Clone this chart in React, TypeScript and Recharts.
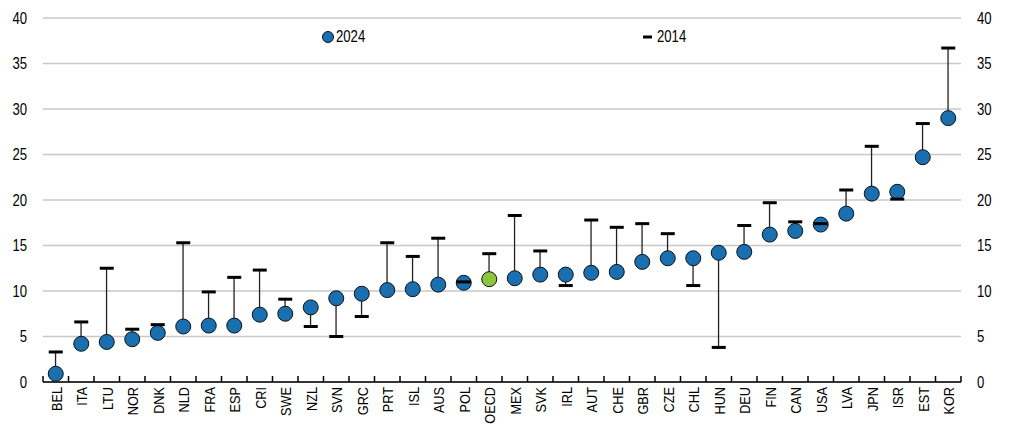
import React from "react";
import {
  ComposedChart,
  Bar,
  Scatter,
  XAxis,
  YAxis,
  CartesianGrid,
  Cell,
  Legend,
} from "recharts";

const categories = [
  "BEL", "ITA", "LTU", "NOR", "DNK", "NLD", "FRA", "ESP", "CRI", "SWE",
  "NZL", "SVN", "GRC", "PRT", "ISL", "AUS", "POL", "OECD", "MEX", "SVK",
  "IRL", "AUT", "CHE", "GBR", "CZE", "CHL", "HUN", "DEU", "FIN", "CAN",
  "USA", "LVA", "JPN", "ISR", "EST", "KOR",
];

const values2024 = [
  0.9, 4.2, 4.4, 4.7, 5.4, 6.1, 6.2, 6.2, 7.4, 7.5,
  8.2, 9.2, 9.7, 10.1, 10.2, 10.7, 10.9, 11.3, 11.4, 11.8,
  11.8, 12.0, 12.1, 13.2, 13.6, 13.6, 14.2, 14.3, 16.2, 16.6,
  17.3, 18.5, 20.7, 20.9, 24.7, 29.0,
];

const values2014 = [
  3.3, 6.6, 12.5, 5.8, 6.3, 15.3, 9.9, 11.5, 12.3, 9.1,
  6.1, 5.0, 7.2, 15.3, 13.8, 15.8, 11.0, 14.1, 18.3, 14.4,
  10.6, 17.8, 17.0, 17.4, 16.3, 10.6, 3.8, 17.2, 19.7, 17.6,
  17.4, 21.1, 25.9, 20.1, 28.4, 36.7,
];

const yTicks = [0, 5, 10, 15, 20, 25, 30, 35, 40];

const data = categories.map((name, i) => ({
  name,
  v2024: values2024[i],
  v2014: values2014[i],
  range: [Math.min(values2024[i], values2014[i]), Math.max(values2024[i], values2014[i])],
}));

const FONT = "'Liberation Sans', Arial, sans-serif";
const SX = 0.82;
const BLUE = "#1a6fb0";
const GREEN = "#8cc63f";

const RangeLine = (props: any) => {
  const { x, y, width, height } = props;
  if (x == null || y == null) return null;
  const cx = x + width / 2;
  const top = Math.min(y, y + height);
  const bottom = Math.max(y, y + height);
  return <line x1={cx} x2={cx} y1={top} y2={bottom} stroke="#222" strokeWidth={1.3} />;
};

const Dot = (props: any) => {
  const { cx, cy, fill } = props;
  if (cx == null || cy == null) return null;
  return <circle cx={cx} cy={cy} r={7.5} fill={fill} stroke="#111" strokeWidth={1} />;
};

const Dash = (props: any) => {
  const { cx, cy } = props;
  if (cx == null || cy == null) return null;
  return <line x1={cx - 7} x2={cx + 7} y1={cy} y2={cy} stroke="#000" strokeWidth={3} />;
};

const N = categories.length;

const XTick = (props: any) => {
  const { x, y, payload, index } = props;
  const half = 918 / N / 2;
  const base = y;
  const ax = x + 6;
  const ay = base + 5;
  return (
    <g>
      <line x1={x - half} x2={x - half} y1={base - 6} y2={base} stroke="#000" strokeWidth={1.5} />
      {index === N - 1 && (
        <line x1={x + half} x2={x + half} y1={base - 6} y2={base} stroke="#000" strokeWidth={1.5} />
      )}
      <text
        x={0}
        y={0}
        transform={`translate(${ax}, ${ay}) rotate(-90) scale(${SX}, 1)`}
        textAnchor="end"
        fontSize={15.5}
        fontFamily={FONT}
        fill="#000"
      >
        {payload.value}
      </text>
    </g>
  );
};

const YTick = (props: any) => {
  const { x, y, payload, anchor } = props;
  return (
    <text
      x={0}
      y={0}
      dy="0.36em"
      transform={`translate(${x}, ${y}) scale(${SX}, 1)`}
      textAnchor={anchor}
      fontSize={16}
      fontFamily={FONT}
      fill="#000"
    >
      {payload.value}
    </text>
  );
};

const LegendContent = () => (
  <div style={{ position: "relative", height: 20, fontFamily: FONT, fontSize: 16 }}>
    <svg width={14} height={14} style={{ position: "absolute", left: 313, top: 2 }}>
      <circle cx={7} cy={7} r={5.5} fill={BLUE} stroke="#111" strokeWidth={1} />
    </svg>
    <span
      style={{ position: "absolute", left: 328, top: 0, transform: `scaleX(${SX})`, transformOrigin: "left center" }}
    >
      2024
    </span>
    <svg width={14} height={14} style={{ position: "absolute", left: 633, top: 2 }}>
      <line x1={2} x2={11} y1={7} y2={7} stroke="#000" strokeWidth={3} />
    </svg>
    <span
      style={{ position: "absolute", left: 649, top: 0, transform: `scaleX(${SX})`, transformOrigin: "left center" }}
    >
      2014
    </span>
  </div>
);

export default function App() {
  return (
    <div style={{ width: 1007, height: 417 }}>
      <ComposedChart
        width={1007}
        height={417}
        data={data}
        margin={{ top: 10, right: 0, left: 0, bottom: 0 }}
      >
        <CartesianGrid vertical={false} stroke="#c8c8c8" strokeWidth={1.5} yAxisId="left" />
        <XAxis
          dataKey="name"
          interval={0}
          height={43}
          tickLine={false}
          tickSize={0}
          tickMargin={0}
          axisLine={{ stroke: "#000", strokeWidth: 1.5 }}
          tick={<XTick />}
        />
        <YAxis
          yAxisId="left"
          orientation="left"
          width={35}
          domain={[0, 40]}
          ticks={yTicks}
          axisLine={false}
          tickLine={false}
          tickSize={0}
          tickMargin={16}
          tick={<YTick anchor="end" />}
        />
        <YAxis
          yAxisId="right"
          orientation="right"
          width={54}
          domain={[0, 40]}
          ticks={yTicks}
          axisLine={false}
          tickLine={false}
          tickSize={0}
          tickMargin={16}
          tick={<YTick anchor="start" />}
        />
        <Legend
          layout="horizontal"
          verticalAlign="middle"
          align="center"
          wrapperStyle={{ position: "absolute", top: 20, left: 0, width: 1007 }}
          content={<LegendContent />}
        />
        <Bar
          yAxisId="left"
          dataKey="range"
          shape={<RangeLine />}
          isAnimationActive={false}
          legendType="none"
        />
        <Scatter
          yAxisId="left"
          dataKey="v2024"
          shape={<Dot />}
          isAnimationActive={false}
        >
          {data.map((d, i) => (
            <Cell key={i} fill={d.name === "OECD" ? GREEN : BLUE} />
          ))}
        </Scatter>
        <Scatter
          yAxisId="right"
          dataKey="v2014"
          shape={<Dash />}
          isAnimationActive={false}
        />
      </ComposedChart>
    </div>
  );
}
